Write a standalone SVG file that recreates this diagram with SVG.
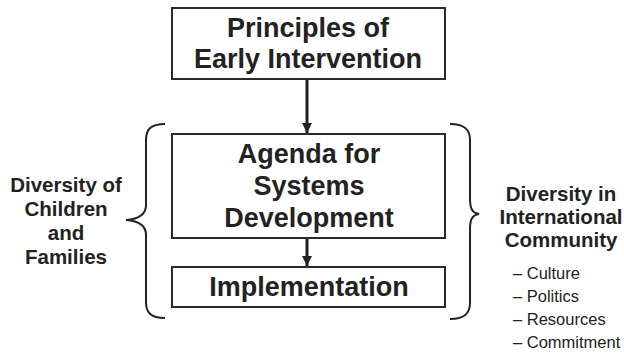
<svg xmlns="http://www.w3.org/2000/svg" width="624" height="354" viewBox="0 0 624 354">
  <style>
    .box { fill: #ffffff; stroke: #2a2a2a; stroke-width: 2; }
    .title { font-family: "Liberation Sans", Arial, sans-serif; font-weight: bold; fill: #222222; text-anchor: middle; }
    .big { font-size: 27px; }
    .mid { font-size: 20.5px; }
    .item { font-family: "Liberation Sans", Arial, sans-serif; font-size: 16.5px; fill: #222222; }
    .conn { stroke: #222222; stroke-width: 3; fill: none; }
    .brace { stroke: #222222; stroke-width: 2; fill: none; }
  </style>
  <defs>
    <marker id="arrow" markerUnits="userSpaceOnUse" markerWidth="10" markerHeight="10" refX="10" refY="5" orient="auto">
      <path d="M0,0 L10,5 L0,10 z" fill="#222222"/>
    </marker>
  </defs>

  <g id="connectors">
    <line class="conn" x1="307" y1="80" x2="307" y2="133" marker-end="url(#arrow)"/>
    <line class="conn" x1="307" y1="239" x2="307" y2="266" marker-end="url(#arrow)"/>
  </g>

  <g id="principles">
    <rect class="box" x="172" y="8" width="273" height="71"/>
    <text class="title big" x="308" y="37">Principles of</text>
    <text class="title big" x="308" y="68">Early Intervention</text>
  </g>

  <g id="agenda">
    <rect class="box" x="172" y="134" width="273" height="104"/>
    <text class="title big" x="309" y="163">Agenda for</text>
    <text class="title big" x="309" y="195">Systems</text>
    <text class="title big" x="309" y="227">Development</text>
  </g>

  <g id="implementation">
    <rect class="box" x="172" y="267" width="273" height="40"/>
    <text class="title big" x="309" y="296">Implementation</text>
  </g>

  <g id="children-families">
    <path class="brace" d="M165,124 C150,124 146,130 146,140 L146,205 C146,214 140,219 126,220 C140,221 146,226 146,235 L146,302 C146,312 150,318 165,318"/>
    <text class="title mid" x="66" y="192">Diversity of</text>
    <text class="title mid" x="66" y="216">Children</text>
    <text class="title mid" x="66" y="240">and</text>
    <text class="title mid" x="66" y="264">Families</text>
  </g>

  <g id="international-community">
    <path class="brace" d="M450,124 C465,124 470,130 470,140 L470,199 C470,208 472,213 479,214 C472,215 470,220 470,229 L470,303 C470,313 465,319 450,319"/>
    <text class="title mid" x="561" y="201">Diversity in</text>
    <text class="title mid" x="561" y="224">International</text>
    <text class="title mid" x="561" y="247">Community</text>
    <text class="item" x="513" y="279">– Culture</text>
    <text class="item" x="513" y="302">– Politics</text>
    <text class="item" x="513" y="325">– Resources</text>
    <text class="item" x="513" y="348">– Commitment</text>
  </g>
</svg>
